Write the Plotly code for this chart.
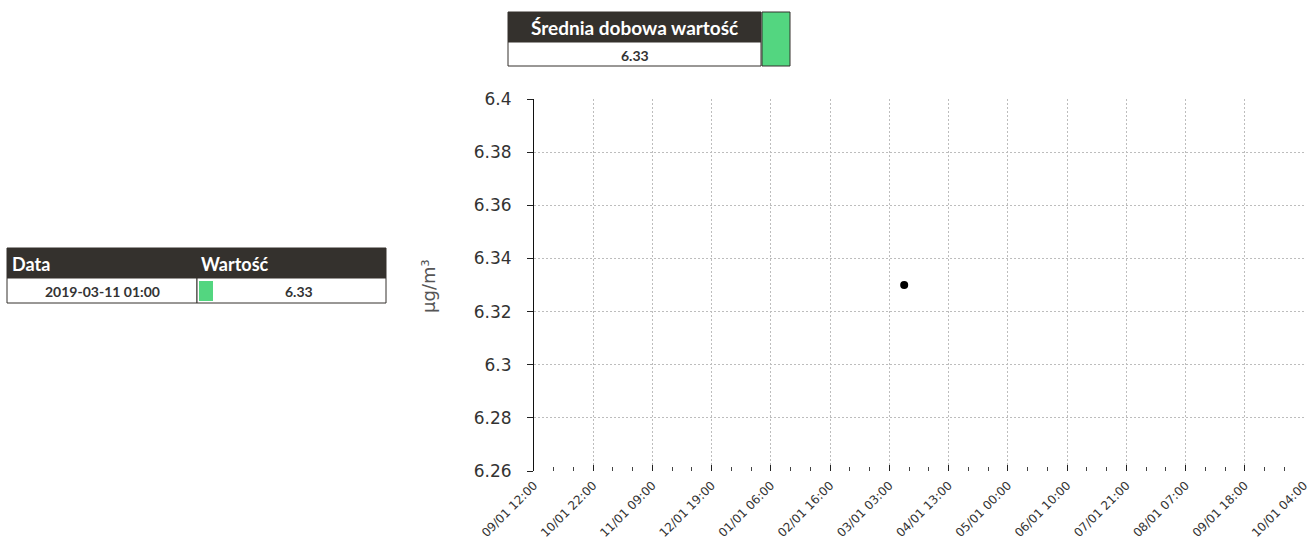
import plotly.graph_objects as go

# ---- data ----
tick_labels = ["09/01 12:00", "10/01 22:00", "11/01 09:00", "12/01 19:00",
               "01/01 06:00", "02/01 16:00", "03/01 03:00", "04/01 13:00",
               "05/01 00:00", "06/01 10:00", "07/01 21:00", "08/01 07:00",
               "09/01 18:00", "10/01 04:00"]
tick_positions = list(range(len(tick_labels)))
point_x = [6.25]
point_y = [6.33]
y_ticks = [6.26, 6.28, 6.3, 6.32, 6.34, 6.36, 6.38, 6.4]
daily_mean = "6.33"
table_date = "2019-03-11 01:00"
table_value = "6.33"

W, H = 1311, 540
L, R, T, B = 534, 1304, 99, 471
DARK = "#34312d"
GREEN = "#53d680"
TXT_FONT = "Lato"


def px(x):
    return (x - L) / (R - L)


def py(y):
    return (B - y) / (B - T)


fig = go.Figure()
fig.add_trace(go.Scatter(x=point_x, y=point_y, mode="markers",
                         marker=dict(color="black", size=8), showlegend=False))

shapes = []
annotations = []


def rect(x0, y0, x1, y1, fill, line="#34312d", lw=1):
    shapes.append(dict(type="rect", xref="paper", yref="paper",
                       x0=px(x0), x1=px(x1), y0=py(y1), y1=py(y0),
                       fillcolor=fill, line=dict(color=line, width=lw), layer="above"))


def text(x, y, s, size, color, anchor="center", weight="bold"):
    annotations.append(dict(xref="paper", yref="paper", x=px(x), y=py(y), text=s,
                            showarrow=False, xanchor=anchor, yanchor="middle",
                            font=dict(family=TXT_FONT, size=size, color=color, weight=weight)))


# top table
rect(508, 12, 761, 42, DARK, DARK)
rect(508, 42, 761, 66, "white", DARK)
rect(762, 12, 790, 66, GREEN, DARK)
text(634.5, 28, "Średnia dobowa wartość", 19, "white")
text(634.5, 55, daily_mean, 14, "#333333")

# left table
rect(7, 248, 386, 278, DARK, DARK)
rect(7, 278, 197, 303, "white", DARK)
rect(197, 278, 386, 303, "white", DARK)
rect(199, 281, 213, 301, GREEN, GREEN, 0)
text(10, 264, "Data", 18, "white", anchor="left")
text(199, 264, "Wartość", 18, "white", anchor="left")
text(102, 291, table_date, 14, "#333333")
text(299, 291, table_value, 14, "#333333")

# y axis title
annotations.append(dict(xref="paper", yref="paper", x=px(428), y=py(286), text="µg/m³",
                        showarrow=False, textangle=-90, xanchor="center", yanchor="middle",
                        font=dict(family="DejaVu Sans", size=18, color="#555555")))

GRID = "#bdbdbd"
fig.update_layout(
    width=W, height=H,
    margin=dict(l=L, r=W - R, t=T, b=H - B, pad=0, autoexpand=False),
    plot_bgcolor="white", paper_bgcolor="white",
    shapes=shapes, annotations=annotations,
    xaxis=dict(range=[0, 13], tickmode="array", tickvals=tick_positions, ticktext=tick_labels,
               tickangle=-45, ticks="inside", ticklen=6, tickcolor="#222222",
               showgrid=True, gridcolor=GRID, griddash="2px,2px", gridwidth=1,
               showline=False, zeroline=False, ticklabelstandoff=4, automargin=False,
               tickfont=dict(family="DejaVu Sans", size=12, color="#333333"),
               minor=dict(dtick=1 / 3, tick0=0, ticks="inside", ticklen=4,
                          tickcolor="#444444", showgrid=False)),
    yaxis=dict(range=[6.26, 6.4], tickmode="array", tickvals=y_ticks,
               ticktext=[f"{v:g}" for v in y_ticks],
               ticks="outside", ticklen=6, tickcolor="#222222",
               showgrid=True, gridcolor=GRID, griddash="2px,2px", gridwidth=1,
               showline=True, linecolor="#111111", linewidth=1, zeroline=False,
               ticklabelstandoff=12, automargin=False,
               tickfont=dict(family="DejaVu Sans", size=17, color="#333333")),
)

fig.write_html("out.html", config={"displayModeBar": False},
               post_script="document.body.style.margin='0px';document.body.style.overflow='hidden';")
